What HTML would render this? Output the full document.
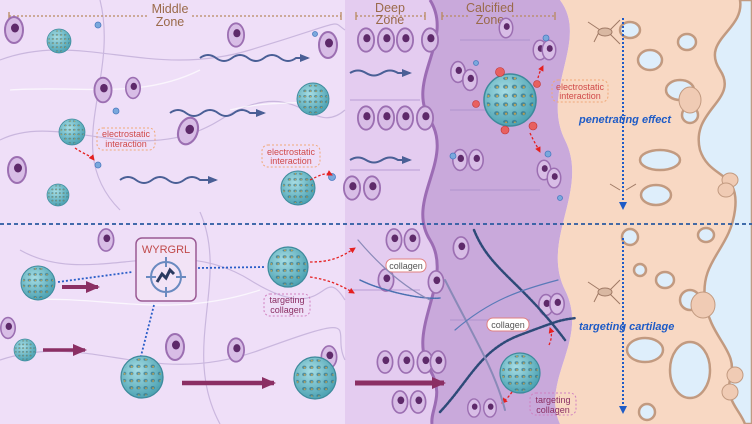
<!DOCTYPE html>
<html><head><meta charset="utf-8"><style>
html,body{margin:0;padding:0;background:#fff}
svg{display:block;font-family:"Liberation Sans",sans-serif}
</style></head><body>
<svg width="752" height="424" viewBox="0 0 752 424" xmlns="http://www.w3.org/2000/svg">
<defs>
<radialGradient id="np" cx="40%" cy="35%" r="65%"><stop offset="0" stop-color="#a6dde4"/><stop offset="1" stop-color="#4ea3b3"/></radialGradient>
<pattern id="pores" width="0.34" height="0.34" patternUnits="userSpaceOnUse"><ellipse cx="0.17" cy="0.17" rx="0.1" ry="0.08" fill="#2f6f86"/><circle cx="0.19" cy="0.19" r="0.045" fill="#e09a20"/></pattern>
<g id="NP"><circle r="1" fill="url(#np)" stroke="#3e8a9c" stroke-width="0.06"/><circle r="0.9" fill="url(#pores)" opacity="0.7"/></g>
<g id="cell"><ellipse rx="9" ry="13" fill="#d8bde6" stroke="#9c6fb2" stroke-width="2"/><ellipse cx="1" cy="-2" rx="4" ry="4.5" fill="#5e2a6a"/></g>
<marker id="ah" markerUnits="userSpaceOnUse" markerWidth="10" markerHeight="10" refX="8" refY="5" orient="auto"><path d="M0,1L10,5L0,9z" fill="#4a5f96"/></marker>
<marker id="ahr" markerUnits="userSpaceOnUse" markerWidth="6" markerHeight="6" refX="5" refY="3" orient="auto"><path d="M0,0L6,3L0,6z" fill="#e52020"/></marker>
<marker id="ahp" markerUnits="userSpaceOnUse" markerWidth="14" markerHeight="12" refX="12" refY="6" orient="auto"><path d="M0,0L14,6L0,12z" fill="#8b2f64"/></marker>
<marker id="ahb" markerUnits="userSpaceOnUse" markerWidth="8" markerHeight="8" refX="6" refY="4" orient="auto"><path d="M0,0L8,4L0,8z" fill="#1e5bc6"/></marker>
</defs>
<rect width="752" height="424" fill="#efdff8"/>
<rect x="345" width="100" height="424" fill="#e4ccf0"/>
<path d="M430,0 C455,40 405,80 430,120 C455,160 405,200 430,240 C455,280 405,330 430,370 C445,395 430,410 432,424 L560,424 C540,380 590,340 565,290 C540,240 590,190 565,140 C540,90 590,40 560,0Z" fill="#c9a9db"/>
<path d="M430,0 C455,40 405,80 430,120 C455,160 405,200 430,240 C455,280 405,330 430,370 C445,395 430,410 432,424" fill="none" stroke="#9c6cb4" stroke-width="3"/>
<path d="M560,0 C590,40 540,90 565,140 C590,190 540,240 565,290 C590,340 540,380 560,424 L752,424 L752,0Z" fill="#f8d8c3"/>
<path d="M752,0 L740,0 C745,30 700,40 720,70 C740,100 690,110 700,150 C710,180 740,170 735,210 C730,250 700,260 705,300 C710,340 740,350 730,380 C725,400 740,410 745,424 L752,424Z" fill="#deeefb" stroke="#c29a80" stroke-width="2.5"/>
<g fill="#deeefb" stroke="#c29a80" stroke-width="2.5">
<ellipse cx="650" cy="60" rx="12" ry="10"/><ellipse cx="680" cy="90" rx="14" ry="10"/><ellipse cx="660" cy="160" rx="20" ry="10"/><ellipse cx="690" cy="115" rx="8" ry="8"/>
<ellipse cx="656" cy="195" rx="15" ry="10"/><ellipse cx="687" cy="42" rx="9" ry="8"/><ellipse cx="630" cy="30" rx="10" ry="8"/>
<ellipse cx="665" cy="280" rx="9" ry="8"/><ellipse cx="690" cy="300" rx="10" ry="10"/><ellipse cx="645" cy="350" rx="18" ry="12"/><ellipse cx="690" cy="370" rx="20" ry="28"/>
<ellipse cx="640" cy="270" rx="6" ry="6"/><ellipse cx="630" cy="237" rx="8" ry="8"/><ellipse cx="647" cy="412" rx="8" ry="8"/><ellipse cx="706" cy="235" rx="8" ry="7"/>
</g>
<g fill="none" stroke="#c6b3dc" stroke-width="1.2" opacity="0.9">
<path d="M0,60 C80,30 150,80 250,50 S330,20 345,30"/><path d="M0,140 C60,110 140,170 220,120 S310,140 345,110"/>
<path d="M20,250 C90,290 170,230 250,280 S320,260 345,300"/><path d="M0,360 C90,330 150,390 260,350 S330,330 345,360"/>
<path d="M100,0 C120,80 60,150 120,210"/><path d="M200,212 C230,280 180,350 220,424"/>
</g>
<g fill="none" stroke="#fff" stroke-width="1.3" opacity="0.7">
<path d="M10,90 C80,85 140,100 200,70"/><path d="M30,300 C100,295 170,320 260,290"/><path d="M230,110 C270,100 300,105 330,100"/>
</g>
<g stroke="#a48ac9" stroke-width="1" opacity="0.7">
<line x1="350" y1="100" x2="420" y2="100"/><line x1="350" y1="170" x2="420" y2="170"/><line x1="460" y1="40" x2="530" y2="40"/><line x1="450" y1="110" x2="520" y2="110"/><line x1="450" y1="190" x2="540" y2="190"/><line x1="450" y1="320" x2="530" y2="320"/><line x1="350" y1="290" x2="420" y2="290"/>
</g>
<g stroke="#b88a60" stroke-width="1.2" stroke-dasharray="2,2"><line x1="9" y1="16" x2="148" y2="16"/><line x1="192" y1="16" x2="341" y2="16"/><line x1="356" y1="16" x2="425" y2="16"/><line x1="442" y1="16" x2="468" y2="16"/><line x1="512" y1="16" x2="555" y2="16"/></g>
<g stroke="#b88a60" stroke-width="1.3"><line x1="9" y1="12" x2="9" y2="20"/><line x1="341" y1="12" x2="341" y2="20"/><line x1="356" y1="12" x2="356" y2="20"/><line x1="425" y1="12" x2="425" y2="20"/><line x1="442" y1="12" x2="442" y2="20"/><line x1="555" y1="12" x2="555" y2="20"/></g>
<g fill="#9a6a4a" font-size="12.5" text-anchor="middle"><text x="170" y="13">Middle</text><text x="170" y="26">Zone</text><text x="390" y="12">Deep</text><text x="390" y="24">Zone</text><text x="490" y="12">Calcified</text><text x="490" y="24">Zone</text></g>
<use href="#cell" transform="translate(14,30)"/><use href="#cell" transform="translate(236,35) scale(0.9)"/><use href="#cell" transform="translate(328,45)"/>
<use href="#cell" transform="translate(103,90) scale(0.95)"/><use href="#cell" transform="translate(133,88) scale(0.8)"/><use href="#cell" transform="translate(188,131) rotate(20) scale(1.05)"/>
<use href="#cell" transform="translate(17,170)"/><use href="#cell" transform="translate(106,240) scale(0.85)"/><use href="#cell" transform="translate(8,328) scale(0.8)"/>
<use href="#cell" transform="translate(175,347)"/><use href="#cell" transform="translate(236,350) scale(0.9)"/><use href="#cell" transform="translate(329,357) scale(0.85)"/>
<g><use href="#cell" transform="translate(366,40) scale(0.9)"/><use href="#cell" transform="translate(386,40) scale(0.9)"/><use href="#cell" transform="translate(405,40) scale(0.9)"/><use href="#cell" transform="translate(430,40) scale(0.9)"/>
<use href="#cell" transform="translate(366,118) scale(0.9)"/><use href="#cell" transform="translate(386,118) scale(0.9)"/><use href="#cell" transform="translate(405,118) scale(0.9)"/><use href="#cell" transform="translate(425,118) scale(0.9)"/>
<use href="#cell" transform="translate(352,188) scale(0.9)"/><use href="#cell" transform="translate(372,188) scale(0.9)"/>
<use href="#cell" transform="translate(394,240) scale(0.85)"/><use href="#cell" transform="translate(412,240) scale(0.85)"/><use href="#cell" transform="translate(386,280) scale(0.85)"/><use href="#cell" transform="translate(436,282) scale(0.85)"/>
<use href="#cell" transform="translate(385,362) scale(0.85)"/><use href="#cell" transform="translate(406,362) scale(0.85)"/><use href="#cell" transform="translate(425,362) scale(0.85)"/><use href="#cell" transform="translate(438,362) scale(0.85)"/>
<use href="#cell" transform="translate(400,402) scale(0.85)"/><use href="#cell" transform="translate(418,402) scale(0.85)"/></g>
<use href="#cell" transform="translate(458,72) scale(0.8)"/><use href="#cell" transform="translate(470,80) scale(0.8)"/><use href="#cell" transform="translate(506,28) scale(0.75)"/>
<use href="#cell" transform="translate(540,50) scale(0.75)"/><use href="#cell" transform="translate(549,50) scale(0.75)"/><use href="#cell" transform="translate(460,160) scale(0.8)"/><use href="#cell" transform="translate(476,160) scale(0.8)"/>
<use href="#cell" transform="translate(544,170) scale(0.75)"/><use href="#cell" transform="translate(554,178) scale(0.75)"/><use href="#cell" transform="translate(461,248) scale(0.85)"/>
<use href="#cell" transform="translate(546,305) scale(0.8)"/><use href="#cell" transform="translate(557,304) scale(0.8)"/><use href="#cell" transform="translate(474,408) scale(0.7)"/><use href="#cell" transform="translate(490,408) scale(0.7)"/>
<g fill="none" stroke="#4a5f96" stroke-width="2" marker-end="url(#ah)">
<path d="M200,58 q8,-6 16,0 t16,0 t16,0 t16,0 t16,0 t16,0 l12,0"/>
<path d="M170,113 q8,-6 16,0 t16,0 t16,0 t16,0 t16,0 l14,0"/>
<path d="M120,180 q8,-6 16,0 t16,0 t16,0 t16,0 t16,0 l16,0"/>
<path d="M350,73 q8,-5 16,0 t16,0 t16,0 l12,0"/><path d="M350,160 q8,-5 16,0 t16,0 t16,0 l12,0"/>
</g>
<g fill="#7aa8dc" stroke="#4a7ac0" stroke-width="0.8"><circle cx="98" cy="25" r="3"/><circle cx="116" cy="111" r="3"/><circle cx="98" cy="165" r="3"/><circle cx="315" cy="34" r="2.5"/><circle cx="332" cy="177" r="3.5"/><circle cx="546" cy="38" r="3"/><circle cx="548" cy="154" r="3"/><circle cx="560" cy="198" r="2.5"/><circle cx="453" cy="156" r="3"/><circle cx="476" cy="63" r="2.5"/></g>
<use href="#NP" transform="translate(59,41) scale(12)"/><use href="#NP" transform="translate(72,132) scale(13)"/><use href="#NP" transform="translate(58,195) scale(11)"/>
<use href="#NP" transform="translate(313,99) scale(16)"/><use href="#NP" transform="translate(298,188) scale(17)"/><use href="#NP" transform="translate(510,100) scale(26)"/>
<use href="#NP" transform="translate(38,283) scale(17)"/><use href="#NP" transform="translate(25,350) scale(11)"/><use href="#NP" transform="translate(288,267) scale(20)"/>
<use href="#NP" transform="translate(142,377) scale(21)"/><use href="#NP" transform="translate(315,378) scale(21)"/><use href="#NP" transform="translate(520,373) scale(20)"/>
<g fill="#e86060" stroke="#c03030" stroke-width="0.6"><circle cx="500" cy="72" r="4.5"/><circle cx="537" cy="84" r="3.5"/><circle cx="476" cy="104" r="3.5"/><circle cx="533" cy="126" r="4"/><circle cx="505" cy="130" r="4"/></g>
<g fill="none" stroke="#e52020" stroke-width="1.3" stroke-dasharray="2.5,2" marker-end="url(#ahr)">
<path d="M75,148 C85,155 90,155 94,160"/><path d="M310,180 C320,175 326,172 332,175"/><path d="M538,78 C540,70 542,68 543,66"/><path d="M530,133 C534,142 538,148 540,152"/>
<path d="M310,262 C330,262 340,258 355,248"/><path d="M310,277 C330,280 340,285 354,293"/><path d="M549,345 C552,338 552,334 550,328"/><path d="M512,392 C508,398 505,400 502,403"/>
</g>
<g font-size="9" text-anchor="middle">
<rect x="97" y="128" width="58" height="22" rx="6" fill="none" stroke="#f0a878" stroke-dasharray="2,2"/><text x="126" y="137" fill="#d04a4a">electrostatic</text><text x="126" y="147" fill="#d04a4a">interaction</text>
<rect x="262" y="145" width="58" height="22" rx="6" fill="none" stroke="#f0a878" stroke-dasharray="2,2"/><text x="291" y="155" fill="#d04a4a">electrostatic</text><text x="291" y="164" fill="#d04a4a">interaction</text>
<rect x="552" y="80" width="56" height="22" rx="6" fill="none" stroke="#f0a878" stroke-dasharray="2,2"/><text x="580" y="90" fill="#d04a4a">electrostatic</text><text x="580" y="99" fill="#d04a4a">interaction</text>
<rect x="264" y="294" width="46" height="22" rx="6" fill="none" stroke="#d080c0" stroke-dasharray="2,2"/><text x="287" y="303" fill="#8b2f64">targeting</text><text x="287" y="313" fill="#8b2f64">collagen</text>
<rect x="530" y="393" width="46" height="22" rx="6" fill="none" stroke="#d080c0" stroke-dasharray="2,2"/><text x="553" y="403" fill="#8b2f64">targeting</text><text x="553" y="413" fill="#8b2f64">collagen</text>
<rect x="386" y="259" width="40" height="13" rx="6" fill="#fff" stroke="#e08080"/><text x="406" y="269" fill="#555">collagen</text>
<rect x="487" y="318" width="42" height="13" rx="6" fill="#fff" stroke="#e08080"/><text x="508" y="328" fill="#555">collagen</text>
</g>
<g fill="none" stroke-linecap="round">
<path d="M474,230 C490,270 520,280 565,340" stroke="#2e4a78" stroke-width="2.5" stroke-dasharray="2,1.5"/>
<path d="M440,412 C470,380 480,350 520,335 S560,320 576,318" stroke="#2e4a78" stroke-width="2.5" stroke-dasharray="2,1.5"/>
<path d="M445,280 C470,330 495,370 505,410" stroke="#8a8ab8" stroke-width="2"/>
<path d="M455,330 C490,300 520,290 558,280" stroke="#5a7ab8" stroke-width="1.2"/>
<path d="M360,280 C380,290 420,300 440,298" stroke="#4a70b0" stroke-width="1.5" stroke-dasharray="1.5,1"/>
<path d="M358,240 C375,260 400,285 430,300" stroke="#8a8ab8" stroke-width="1.2"/>
</g>
<line x1="0" y1="224" x2="752" y2="224" stroke="#2a5aa0" stroke-width="1.8" stroke-dasharray="4,3"/>
<g stroke="#1e5bc6" stroke-width="2" stroke-dasharray="2,2" marker-end="url(#ahb)"><line x1="623" y1="18" x2="623" y2="208"/><line x1="623" y1="238" x2="623" y2="412"/></g>
<g font-size="11" font-weight="bold" font-style="italic" fill="#1e5bc6"><text x="579" y="123">penetrating effect</text><text x="579" y="330">targeting cartilage</text></g>
<g fill="none" stroke="#a07a66" stroke-width="1"><path d="M600,30 l-12,-8 M600,30 l-6,12 M610,30 l10,-10 M610,34 l10,10"/><path d="M600,290 l-12,-8 M600,290 l-6,12 M610,290 l10,-10 M610,294 l10,10"/><path d="M620,190 l-10,-6 M626,190 l10,-6"/></g>
<ellipse cx="605" cy="32" rx="7" ry="4" fill="#d9b8a2" stroke="#a07a66"/><ellipse cx="605" cy="292" rx="7" ry="4" fill="#d9b8a2" stroke="#a07a66"/>
<g fill="#f0cbb4" stroke="#c29a80" stroke-width="1"><ellipse cx="690" cy="100" rx="11" ry="13"/><ellipse cx="730" cy="180" rx="8" ry="7"/><ellipse cx="726" cy="190" rx="8" ry="7"/><ellipse cx="703" cy="305" rx="12" ry="13"/><ellipse cx="735" cy="375" rx="8" ry="8"/><ellipse cx="730" cy="392" rx="8" ry="8"/></g>
<g stroke="#2a5ec8" stroke-width="1.8" stroke-dasharray="2,2" fill="none"><line x1="58" y1="282" x2="132" y2="272"/><line x1="198" y1="268" x2="265" y2="267"/><line x1="154" y1="305" x2="141" y2="356"/></g>
<rect x="136" y="238" width="60" height="63" rx="6" fill="#f2e3f6" stroke="#9a5a94" stroke-width="1.5"/>
<text x="166" y="253" font-size="11" fill="#c04a4a" text-anchor="middle">WYRGRL</text>
<g stroke="#6a8ac0" stroke-width="2" fill="none"><circle cx="166" cy="277" r="15"/><line x1="146" y1="277" x2="156" y2="277"/><line x1="176" y1="277" x2="186" y2="277"/><line x1="166" y1="257" x2="166" y2="267"/><line x1="166" y1="287" x2="166" y2="297"/></g>
<path d="M157,282 l5,-8 l4,4 l4,-8 l4,4" stroke="#2a3a60" stroke-width="3" fill="none"/>
<g stroke="#8b2f64" fill="none" marker-end="url(#ahp)"><line x1="62" y1="287" x2="98" y2="287" stroke-width="4"/><line x1="43" y1="350" x2="85" y2="350" stroke-width="3.5"/><line x1="182" y1="383" x2="274" y2="383" stroke-width="4.5"/><line x1="355" y1="383" x2="444" y2="383" stroke-width="5"/></g>
</svg>
</body></html>
